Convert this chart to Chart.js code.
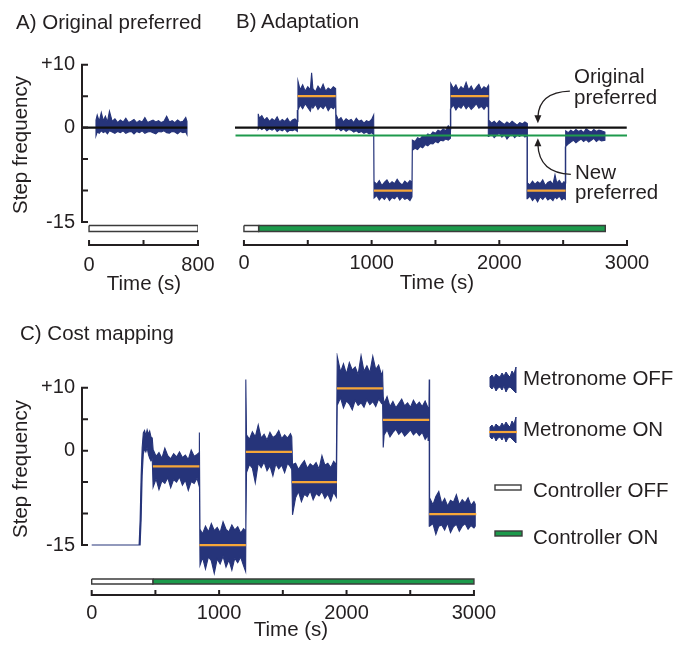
<!DOCTYPE html>
<html>
<head>
<meta charset="utf-8">
<script src="https://cdn.jsdelivr.net/npm/chart.js@4.4.1/dist/chart.umd.min.js"></script>
<style>
body { margin: 0; background: #fff; }
#wrap { position: relative; width: 678px; height: 647px; overflow: hidden; font-family: "Liberation Sans", Arial, Helvetica, sans-serif; color: #231f20; }
#wrap canvas { position: absolute; left: 0; top: 0; }
.t { position: absolute; font-size: 20.5px; line-height: 20px; white-space: nowrap; }
.c { transform: translateX(-50%); }
.rot { transform: translate(-50%, -50%) rotate(-90deg); }
</style>
</head>
<body>
<div id="wrap">
<canvas id="chartA" width="678" height="647"></canvas>
<canvas id="chartB" width="678" height="647"></canvas>
<canvas id="chartC" width="678" height="647"></canvas>

<div class="t" style="left:16px;top:12px">A) Original preferred</div>
<div class="t" style="left:236px;top:11px">B) Adaptation</div>
<div class="t" style="left:20px;top:323px">C) Cost mapping</div>

<div class="t rot" style="left:20px;top:145px">Step frequency</div>
<div class="t rot" style="left:20px;top:469px">Step frequency</div>

<div class="t c" style="left:144px;top:273px">Time (s)</div>
<div class="t c" style="left:437px;top:272px">Time (s)</div>
<div class="t c" style="left:291px;top:619px">Time (s)</div>

<div class="t" style="left:574px;top:66px">Original</div>
<div class="t" style="left:574px;top:87px">preferred</div>
<div class="t" style="left:575px;top:162px">New</div>
<div class="t" style="left:575px;top:182px">preferred</div>

<div class="t" style="left:523px;top:368px">Metronome OFF</div>
<div class="t" style="left:523px;top:419px">Metronome ON</div>
<div class="t" style="left:533px;top:480px">Controller OFF</div>
<div class="t" style="left:533px;top:527px">Controller ON</div>
</div>

<script>
// colours
const ink = '#231f20';
const navy = '#26347a';
const orange = '#f6a638';
const green = '#1c9a4b';

// axis ticks shared by the panels
const yTickVals = [-15, -10, -5, 0, 5, 10];
const yTickText = { '10': '+10', '0': '0', '-15': '-15' };
const xTicksA = [0, 400, 800];
const xLabelsA = [0, 800];
const xTicksBC = [0, 500, 1000, 1500, 2000, 2500, 3000];
const xLabelsBC = [0, 1000, 2000, 3000];

// ---- A) original preferred: envelope of the step frequency trace (min / max)
const tA = [51, 60, 75, 90, 105, 120, 135, 150, 170, 190, 210, 230, 250, 270, 290, 310, 330, 350, 370, 390,
  410, 430, 450, 470, 490, 510, 530, 550, 570, 590, 610, 630, 650, 670, 690, 710, 719];
const hiA = [1.2, 2.0, 1.0, 2.4, 1.1, 1.8, 0.9, 2.6, 1.0, 1.4, 0.8, 1.2, 0.9, 1.5, 0.8, 1.0, 1.3, 0.8, 1.1, 0.9,
  1.6, 0.8, 1.0, 1.2, 0.9, 1.1, 0.8, 1.0, 1.8, 0.9, 1.1, 0.8, 1.2, 0.9, 1.0, 1.6, 1.0];
const loA = [-1.3, -0.7, -0.9, -0.5, -0.8, -0.6, -1.0, -0.5, -0.7, -0.9, -0.6, -0.8, -0.5, -0.9, -0.7, -0.6, -1.0, -0.6, -0.8, -0.5,
  -0.9, -0.7, -0.6, -0.8, -1.0, -0.6, -0.7, -0.5, -0.8, -0.9, -0.6, -0.7, -1.0, -0.6, -0.8, -0.7, -1.1];
const origLineA = [-59, 720];       // time span of the "original preferred" line (level 0)
const ctrlOffA = [0, 800];

// ---- B) adaptation
const tB = [
  112, 120, 140, 160, 180, 200, 220, 240, 260, 280, 300, 320, 340, 360, 380, 400, 418,
  423, 440, 460, 480, 500, 520, 530, 540, 560, 580, 600, 620, 640, 660, 680, 700, 718,
  721, 740, 760, 780, 800, 820, 840, 860, 880, 900, 920, 940, 960, 980, 1000, 1016,
  1019, 1040, 1060, 1080, 1100, 1120, 1140, 1160, 1180, 1200, 1220, 1240, 1260, 1280, 1300, 1316,
  1319, 1340, 1360, 1380, 1400, 1420, 1440, 1460, 1480, 1500, 1520, 1540, 1560, 1580, 1600, 1617,
  1620, 1640, 1660, 1680, 1700, 1720, 1740, 1760, 1780, 1800, 1820, 1840, 1860, 1880, 1900, 1914,
  1917, 1940, 1960, 1980, 2000, 2020, 2040, 2060, 2080, 2100, 2120, 2140, 2160, 2180, 2200, 2217,
  2220, 2240, 2260, 2280, 2300, 2320, 2340, 2360, 2380, 2400, 2420, 2436, 2450, 2470, 2490, 2505, 2517,
  2520, 2540, 2560, 2580, 2600, 2620, 2640, 2660, 2680, 2700, 2720, 2740, 2760, 2780, 2800, 2827];
const hiB = [
  2.2, 1.5, 1.9, 1.2, 1.6, 1.0, 1.4, 1.1, 1.7, 0.9, 1.3, 1.0, 1.5, 0.8, 1.2, 1.4, 1.0,
  7.4, 6.0, 6.8, 5.8, 6.5, 6.0, 8.7, 6.2, 5.7, 6.6, 6.0, 6.9, 5.8, 6.3, 6.0, 6.5, 6.2,
  2.1, 1.2, 1.6, 0.9, 1.4, 1.1, 1.3, 0.8, 1.5, 1.0, 1.2, 0.7, 1.1, 0.9, 1.3, 2.0,
  -8.6, -9.0, -8.4, -9.2, -8.7, -8.3, -9.0, -8.6, -8.9, -8.2, -8.8, -9.1, -8.5, -8.9, -8.4, -8.7,
  -2.0, -2.2, -1.6, -1.8, -1.3, -1.5, -1.0, -1.2, -0.7, -0.9, -0.4, -0.6, -0.2, -0.5, 0.3, -0.2,
  7.0, 6.2, 6.8, 5.9, 6.5, 6.1, 7.2, 6.0, 6.6, 5.8, 6.4, 6.9, 6.0, 6.5, 6.2, 6.7,
  1.2, 0.7, 1.0, 0.6, 1.1, 0.8, 0.5, 0.9, 0.6, 1.0, 0.7, 0.4, 0.8, 0.6, 0.9, 0.7,
  -8.8, -9.1, -8.5, -9.0, -8.6, -8.9, -8.3, -9.2, -8.7, -8.5, -9.0, -7.5, -8.8, -8.4, -9.0, -8.6, -8.8,
  -0.5, -0.8, -0.4, -0.7, -0.3, -0.6, -0.4, -0.8, -0.2, -0.5, -0.7, -0.3, -0.6, -0.4, -0.5, -0.7];
const loB = [
  -0.2, 0.1, -0.3, 0.0, -0.5, -0.2, -0.4, -0.1, -0.6, -0.3, -0.5, -0.2, -0.7, -0.4, -0.5, -0.3, -0.6,
  2.8, 3.6, 3.0, 3.8, 3.2, 2.6, 3.5, 3.1, 3.7, 2.9, 3.4, 3.0, 3.6, 2.7, 3.3, 3.0, 3.5,
  -0.3, -0.1, -0.5, -0.2, -0.6, -0.3, -0.4, -0.7, -0.5, -0.8, -0.6, -0.9, -0.7, -1.0, -0.8, -1.1,
  -11.2, -10.8, -11.5, -11.0, -11.4, -10.9, -11.6, -11.1, -11.3, -10.8, -11.5, -11.0, -11.4, -11.2, -11.6, -11.0,
  -3.6, -3.3, -3.5, -3.0, -3.2, -2.7, -2.9, -2.5, -2.6, -2.2, -2.4, -2.0, -2.1, -1.8, -2.0, -1.7,
  3.0, 3.6, 2.8, 3.4, 3.1, 3.7, 3.0, 3.5, 2.9, 3.3, 3.8, 3.1, 3.4, 2.9, 3.5, 3.2,
  -1.4, -1.0, -1.6, -1.2, -0.9, -1.5, -1.1, -1.8, -1.3, -1.0, -1.6, -1.2, -1.4, -1.0, -1.5, -1.3,
  -11.3, -10.9, -11.6, -11.1, -11.8, -11.0, -11.4, -10.9, -11.5, -11.2, -11.6, -11.0, -11.3, -10.9, -11.5, -11.2, -11.4,
  -3.0, -2.6, -2.3, -2.0, -2.4, -2.1, -1.8, -2.2, -1.9, -2.3, -2.0, -1.7, -2.2, -1.9, -2.1, -2.0];
// metronome ON periods: start, end, target frequency
const onStartB = [420, 1018, 1619, 2219];
const onEndB = [719, 1318, 1916, 2519];
const onLevelB = [5, -10, 5, -10];
const origLineB = [-70, 2998];      // original preferred (level 0)
const newLineB = [-66, 3000];       // new preferred
const newLevelB = -1.25;
const ctrlOffB = [0, 115];
const ctrlOnB = [115, 2830];

// ---- C) cost mapping
const tC = [
  0, 372,
  380, 388, 396, 405, 415, 425, 435, 445, 455, 465, 475,
  482, 505, 528, 551, 574, 597, 620, 643, 666, 689, 712, 735, 758, 781, 804, 827, 843,
  845,
  850, 870, 893, 916, 939, 962, 985, 1008, 1031, 1054, 1077, 1100, 1123, 1146, 1169, 1192, 1207,
  1209, 1210,
  1215, 1238, 1261, 1284, 1307, 1330, 1353, 1376, 1399, 1422, 1445, 1468, 1491, 1514, 1537, 1560, 1570,
  1576, 1600, 1623, 1646, 1669, 1692, 1715, 1738, 1761, 1784, 1807, 1830, 1853, 1876, 1899, 1920,
  1927, 1953, 1976, 1999, 2022, 2045, 2068, 2091, 2114, 2137, 2160, 2183, 2206, 2229, 2252, 2275, 2283,
  2288, 2295, 2318, 2341, 2364, 2387, 2410, 2433, 2456, 2479, 2502, 2525, 2548, 2571, 2594, 2617, 2640, 2647,
  2649,
  2652, 2678, 2701, 2724, 2747, 2770, 2793, 2816, 2839, 2862, 2885, 2908, 2931, 2954, 2977, 3000, 3010];
const hiC = [
  -15, -15,
  -11, -4, 0.5, 2.8, 3.2, 2.4, 3.3, 2.6, 3.1, 2.2, 2.0,
  0.2, -0.9, -0.3, -1.2, 0.4, -0.8, -1.3, -0.5, -1.0, -0.2, -1.1, -0.7, -1.4, 0.1, -0.9, -0.6, -0.3,
  2.9,
  -12.5, -13.2, -12.0, -12.9, -11.6, -12.7, -12.2, -13.0, -11.3, -12.5, -12.9, -11.8, -12.6, -12.1, -13.1, -12.4, -12.8,
  -12.5, 11.3,
  2.5, 1.8, 3.0, 2.2, 4.1, 2.0, 2.6, 1.7, 2.9, 2.1, 2.4, 3.2, 1.9, 2.5, 2.0, 2.7, 2.2,
  -2.2, -2.0, -3.0, -2.2, -1.6, -2.8, -2.1, -2.5, -1.9, -2.9, -0.8, -2.3, -2.0, -2.7, -1.7, -2.2,
  15.0, 12.5, 13.8, 12.2, 14.0, 12.8, 13.3, 12.1, 15.1, 12.6, 13.5, 12.4, 15.0, 12.9, 13.6, 12.0, 12.5,
  8.6, 7.5, 8.6, 7.0, 7.8, 6.8, 7.5, 8.2, 7.1, 7.6, 6.9, 8.0, 7.2, 7.7, 7.0, 7.9, 6.8, 7.2,
  11.3,
  -7.5, -8.6, -7.3, -6.5, -8.4, -7.6, -8.8, -7.9, -8.2, -7.0, -8.6, -7.8, -8.3, -7.5, -8.7, -8.1, -8.5];
const loC = [
  -15, -15,
  -15, -11, -4, -0.5, 0.3, -0.2, 0.5, -0.6, -1.2, -1.6, -1.2,
  -5.8, -4.5, -6.2, -4.8, -5.2, -4.3, -5.9, -4.6, -5.0, -4.2, -5.5, -4.7, -6.3, -4.9, -5.2, -4.4, -5.6,
  -3.0,
  -18.2, -17.0, -18.8, -16.9, -17.5, -19.5, -17.2, -18.0, -16.8, -18.5, -17.4, -19.0, -17.1, -17.8, -16.9, -18.3, -19.2,
  -19.0, -12.5,
  -3.5, -2.2, -2.8, -5.1, -2.0, -2.7, -1.8, -3.2, -2.4, -4.0, -2.1, -2.9, -2.3, -3.5, -2.0, -2.6, -3.0,
  -10.2, -7.5, -6.5, -8.1, -6.9, -7.3, -6.4, -7.8, -6.8, -7.2, -6.5, -7.6, -6.9, -8.0, -6.6, -7.4,
  7.2, 8.4, 6.8, 7.9, 7.4, 6.5, 8.0, 7.2, 7.6, 6.9, 8.1, 7.3, 7.8, 7.0, 8.2, 7.5, 7.8,
  0.5, 2.5, 3.3, 2.2, 2.9, 3.4, 2.6, 3.1, 2.3, 2.8, 3.3, 2.5, 3.0, 2.4, 2.9, 1.8, 2.4, 1.6,
  2.0,
  -12.0, -11.6, -13.3, -12.0, -11.8, -12.6, -11.5, -13.0, -12.1, -11.7, -12.8, -12.0, -11.6, -12.5, -11.9, -12.3, -12.0];
const onStartC = [480, 845, 1210, 1572, 1924, 2285, 2649];
const onEndC = [845, 1210, 1572, 1924, 2285, 2649, 3020];
const onLevelC = [-2.5, -15, -0.2, -5, 9.9, 4.9, -10.1];
const ctrlOffC = [0, 480];
const ctrlOnC = [480, 3000];

// legend glyph (pixel offsets of a short noisy trace)
const iconTop = [-5, -7, -4, -8, -6, -5, -9, -6, -10, -7, -5, -11, -8, -15];
const iconBot = [5, 7, 4, 9, 6, 5, 8, 4, 10, 6, 5, 7, 9, 11];

Chart.defaults.font.family = '"Liberation Sans", Arial, Helvetica, sans-serif';
Chart.defaults.font.size = 20;
Chart.defaults.color = ink;

function band(t, hi, lo) {
  const n = Math.min(t.length, hi.length, lo.length);
  const up = [], down = [];
  for (let i = 0; i < n; i++) { up.push({ x: t[i], y: hi[i] }); down.push({ x: t[i], y: lo[i] }); }
  return up.concat(down.reverse(), [up[0]]);
}
function rect(x0, x1, y0, y1) {
  return [{ x: x0, y: y0 }, { x: x1, y: y0 }, { x: x1, y: y1 }, { x: x0, y: y1 }, { x: x0, y: y0 }];
}
function hline(x0, x1, v) { return [{ x: x0, y: v }, { x: x1, y: v }]; }

const traceDs = pts => ({ data: pts, borderColor: navy, backgroundColor: navy, borderWidth: 1.1, fill: 'shape', pointRadius: 0, order: 5 });
const lineDs = (pts, color, w, order) => ({ data: pts, borderColor: color, borderWidth: w, fill: false, pointRadius: 0, order: order });
const ctrlDs = (pts, color) => ({ data: pts, borderColor: '#3b3b3b', backgroundColor: color, borderWidth: 1.4, borderJoinStyle: 'miter', fill: 'shape', pointRadius: 0, order: 6 });
const orangeSegs = (s, e, l) => s.map((x, i) => lineDs(hline(x, e[i], l[i]), orange, 2.2, 0));

// spines and tick marks, drawn through the scales
function axesPlugin(name, xFrom, xTo, xTicks, withY) {
  return {
    id: 'axes' + name,
    afterDraw(chart) {
      const ctx = chart.ctx, x = chart.scales.x, y = chart.scales.y;
      const yb = chart.chartArea.bottom - 1;
      ctx.save();
      ctx.strokeStyle = ink;
      ctx.lineWidth = 2;
      ctx.beginPath();
      ctx.moveTo(x.getPixelForValue(xFrom) - 1, yb);
      ctx.lineTo(x.getPixelForValue(xTo) + 1, yb);
      xTicks.forEach(v => { const px = x.getPixelForValue(v); ctx.moveTo(px, yb); ctx.lineTo(px, yb - 5); });
      if (withY) {
        const xl = chart.chartArea.left + 1;
        ctx.moveTo(xl, y.getPixelForValue(10) - 1);
        ctx.lineTo(xl, y.getPixelForValue(-15) + 1);
        yTickVals.forEach(v => { const py = y.getPixelForValue(v); ctx.moveTo(xl, py); ctx.lineTo(xl + 6, py); });
      }
      ctx.stroke();
      ctx.restore();
    }
  };
}

function arrowHead(ctx, tx, ty, dir) {
  ctx.beginPath();
  ctx.moveTo(tx, ty);
  ctx.lineTo(tx - 3.5, ty - 8 * dir);
  ctx.lineTo(tx + 3.5, ty - 8 * dir);
  ctx.closePath();
  ctx.fill();
}

const arrowsPlugin = {
  id: 'arrowsB',
  afterDraw(chart) {
    const ctx = chart.ctx, x = chart.scales.x, y = chart.scales.y;
    const tx = x.getPixelForValue(2302);
    const t1 = y.getPixelForValue(0.7);
    const t2 = y.getPixelForValue(-1.7);
    ctx.save();
    ctx.strokeStyle = ink; ctx.fillStyle = ink; ctx.lineWidth = 1.3;
    ctx.beginPath();
    ctx.moveTo(tx + 32, t1 - 32);
    ctx.quadraticCurveTo(tx + 1, t1 - 31, tx, t1 - 6);
    ctx.stroke();
    arrowHead(ctx, tx, t1, 1);
    ctx.beginPath();
    ctx.moveTo(tx + 33, t2 + 36);
    ctx.quadraticCurveTo(tx + 1, t2 + 35, tx, t2 + 6);
    ctx.stroke();
    arrowHead(ctx, tx, t2, -1);
    ctx.restore();
  }
};

function noiseIcon(ctx, x0, cy, withOrange) {
  ctx.beginPath();
  iconTop.forEach((d, i) => { const px = x0 + i * 2; if (i) ctx.lineTo(px, cy + d); else ctx.moveTo(px, cy + d); });
  for (let i = iconBot.length - 1; i >= 0; i--) ctx.lineTo(x0 + i * 2, cy + iconBot[i]);
  ctx.closePath();
  ctx.fillStyle = navy; ctx.strokeStyle = navy; ctx.lineWidth = 1;
  ctx.fill(); ctx.stroke();
  if (withOrange) {
    ctx.strokeStyle = orange; ctx.lineWidth = 2.2;
    ctx.beginPath(); ctx.moveTo(x0 - 1, cy); ctx.lineTo(x0 + 27, cy); ctx.stroke();
  }
}

const legendPlugin = {
  id: 'legendC',
  afterDraw(chart) {
    const ctx = chart.ctx;
    ctx.save();
    noiseIcon(ctx, 490, 382, false);
    noiseIcon(ctx, 490, 432, true);
    ctx.lineWidth = 1.4; ctx.strokeStyle = '#3b3b3b';
    ctx.fillStyle = '#fff'; ctx.fillRect(495, 485, 26, 5); ctx.strokeRect(495, 485, 26, 5);
    ctx.fillStyle = green; ctx.fillRect(495, 531, 27, 5); ctx.strokeRect(495, 531, 27, 5);
    ctx.restore();
  }
};

function makeChart(id, o) {
  return new Chart(document.getElementById(id), {
    type: 'line',
    data: { datasets: o.datasets },
    options: {
      responsive: false,
      animation: false,
      events: [],
      layout: { padding: o.padding },
      plugins: { legend: { display: false }, tooltip: { enabled: false } },
      scales: {
        x: {
          type: 'linear', min: o.xMin, max: o.xMax,
          grid: { display: false, drawTicks: false }, border: { display: false },
          afterBuildTicks: s => { s.ticks = o.xTicks.map(v => ({ value: v })); },
          afterFit: s => { s.height = 40; },
          ticks: { autoSkip: false, maxRotation: 0, padding: o.xPad, callback: v => o.xLabels.includes(v) ? String(v) : '' }
        },
        y: {
          type: 'linear', min: o.yMin, max: o.yMax, display: o.showY,
          grid: { display: false, drawTicks: false }, border: { display: false },
          afterBuildTicks: s => { s.ticks = yTickVals.map(v => ({ value: v })); },
          afterFit: s => { s.width = 81; },
          ticks: { autoSkip: false, padding: 6, callback: v => yTickText[String(v)] || '' }
        }
      }
    },
    plugins: o.plugins
  });
}

// A
makeChart('chartA', {
  padding: { left: 0, top: 64.7, right: 480, bottom: 361.1 },
  xMin: -59, xMax: 800, yMin: -18.8, yMax: 10, showY: true,
  xTicks: xTicksA, xLabels: xLabelsA, xPad: 8,
  datasets: [
    lineDs(hline(origLineA[0], origLineA[1], 0), '#111', 2.2, 1),
    traceDs(band(tA, hiA, loA)),
    ctrlDs(rect(ctrlOffA[0], ctrlOffA[1], -15.55, -16.5), '#fff')
  ],
  plugins: [axesPlugin('A', 0, 800, xTicksA, true)]
});

// B (hidden y scale still takes its fixed 81px width, so the padding starts 81px earlier)
makeChart('chartB', {
  padding: { left: 154, top: 64.7, right: 51, bottom: 361.1 },
  xMin: -70, xMax: 3000, yMin: -18.8, yMax: 10, showY: false,
  xTicks: xTicksBC, xLabels: xLabelsBC, xPad: 6,
  datasets: orangeSegs(onStartB, onEndB, onLevelB).concat([
    lineDs(hline(origLineB[0], origLineB[1], 0), '#111', 2.2, 1),
    lineDs(hline(newLineB[0], newLineB[1], newLevelB), '#1e9a4c', 2.2, 1),
    traceDs(band(tB, hiB, loB)),
    ctrlDs(rect(ctrlOffB[0], ctrlOffB[1], -15.55, -16.5), '#fff'),
    ctrlDs(rect(ctrlOnB[0], ctrlOnB[1], -15.55, -16.5), green)
  ]),
  plugins: [axesPlugin('B', 0, 3000, xTicksBC, false), arrowsPlugin]
});

// C
makeChart('chartC', {
  padding: { left: 0, top: 353.1, right: 201.5, bottom: 11 },
  xMin: -84, xMax: 3020, yMin: -23.1, yMax: 15.5, showY: true,
  xTicks: xTicksBC, xLabels: xLabelsBC, xPad: 5,
  datasets: orangeSegs(onStartC, onEndC, onLevelC).concat([
    traceDs(band(tC, hiC, loC)),
    ctrlDs(rect(ctrlOffC[0], ctrlOffC[1], -20.4, -21.2), '#fff'),
    ctrlDs(rect(ctrlOnC[0], ctrlOnC[1], -20.4, -21.2), green)
  ]),
  plugins: [axesPlugin('C', 0, 3000, xTicksBC, true), legendPlugin]
});
</script>
</body>
</html>
